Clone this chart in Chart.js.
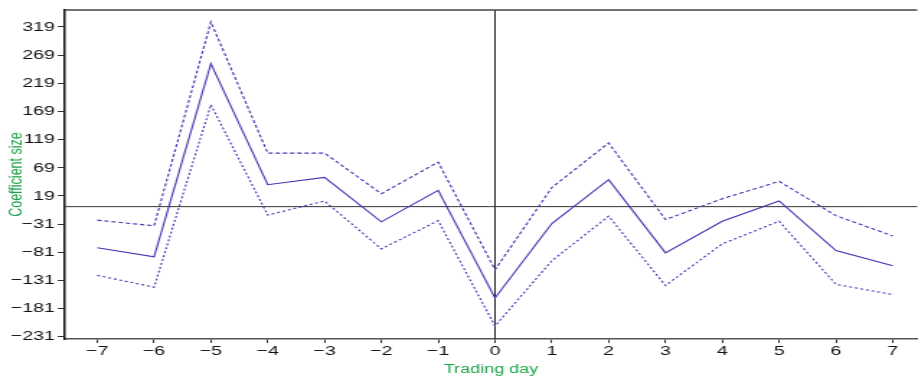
<!DOCTYPE html>
<html>
<head>
<meta charset="utf-8">
<script src="https://cdn.jsdelivr.net/npm/chart.js@4.4.1/dist/chart.umd.min.js"></script>
<style>
  html, body { margin: 0; padding: 0; background: #fff; overflow: hidden; }
  /* the original figure is stretched sideways, so draw narrow and widen it */
  #wrap { width: 637px; height: 381px; transform: scaleX(1.4411); transform-origin: 0 0; }
</style>
</head>
<body>
<div id="wrap"><canvas id="eventChart"></canvas></div>
<script>
// Trading days around the event
const days = [-7, -6, -5, -4, -3, -2, -1, 0, 1, 2, 3, 4, 5, 6, 7];

// Estimated coefficient and its upper / lower band
const coef  = [-73, -89, 254, 39, 52, -27, 29, -162, -30, 48, -82, -26, 10, -78, -105];
const upper = [-24, -34, 328, 95, 95, 23, 79, -112, 34, 113, -23, 14, 45, -16, -52];
const lower = [-122, -143, 181, -15, 10, -75, -25, -212, -96, -17, -140, -66, -26, -138, -156];

// Tick labels on the y axis
const yTicks = [-231, -181, -131, -81, -31, 19, 69, 119, 169, 219, 269, 319];

const lineColor = '#4a30b2';
const fontFamily = '"Liberation Sans", Arial, sans-serif';

function minus(v) {
    return String(v).replace('-', '\u2212');
}

// Zero lines and the top frame line
const zeroLines = {
    id: 'zeroLines',
    beforeDatasetsDraw(chart) {
        const { ctx, chartArea, scales } = chart;
        const x0 = scales.x.getPixelForValue(0);
        const y0 = scales.y.getPixelForValue(0);
        ctx.save();
        ctx.lineWidth = 1;
        ctx.strokeStyle = '#222';
        ctx.beginPath();
        ctx.moveTo(x0, chartArea.top);
        ctx.lineTo(x0, chartArea.bottom);
        ctx.stroke();
        ctx.strokeStyle = '#333';
        ctx.beginPath();
        ctx.moveTo(chartArea.left, y0);
        ctx.lineTo(chartArea.right, y0);
        ctx.stroke();
        ctx.lineWidth = 1.5;
        ctx.strokeStyle = '#444';
        ctx.beginPath();
        ctx.moveTo(chartArea.left, chartArea.top);
        ctx.lineTo(chartArea.right, chartArea.top);
        ctx.stroke();
        ctx.restore();
    }
};

const ctx = document.getElementById('eventChart').getContext('2d');

new Chart(ctx, {
    type: 'line',
    data: {
        datasets: [
            {
                label: 'Upper',
                data: days.map((d, i) => ({ x: d, y: upper[i] })),
                borderColor: lineColor,
                borderWidth: 1.1,
                borderDash: [3, 2],
                pointRadius: 0,
                tension: 0
            },
            {
                label: 'Coefficient',
                data: days.map((d, i) => ({ x: d, y: coef[i] })),
                borderColor: lineColor,
                borderWidth: 1.1,
                pointRadius: 0,
                tension: 0
            },
            {
                label: 'Lower',
                data: days.map((d, i) => ({ x: d, y: lower[i] })),
                borderColor: lineColor,
                borderWidth: 1.1,
                borderDash: [2, 2],
                pointRadius: 0,
                tension: 0
            }
        ]
    },
    options: {
        responsive: true,
        maintainAspectRatio: false,
        animation: false,
        layout: { padding: { top: 8, right: 0, bottom: 0, left: 0 } },
        plugins: {
            legend: { display: false },
            tooltip: { enabled: false }
        },
        scales: {
            x: {
                type: 'linear',
                min: -7.57,
                max: 7.43,
                afterBuildTicks: (axis) => { axis.ticks = days.map(v => ({ value: v })); },
                afterFit: (axis) => { axis.height = 42; },
                ticks: {
                    color: '#111',
                    font: { family: fontFamily, size: 13.5 },
                    padding: 0,
                    maxRotation: 0,
                    callback: (v) => minus(v)
                },
                grid: { drawOnChartArea: false, drawTicks: true, tickLength: 4, color: '#333' },
                border: { display: true, color: '#555', width: 1.5 },
                title: {
                    display: true,
                    text: 'Trading day',
                    color: '#1fa34a',
                    font: { family: fontFamily, size: 12.5 },
                    padding: { top: 0, bottom: 4 }
                }
            },
            y: {
                min: -235,
                max: 349,
                afterBuildTicks: (axis) => { axis.ticks = yTicks.map(v => ({ value: v })); },
                afterFit: (axis) => { axis.width = 45; },
                ticks: {
                    color: '#111',
                    font: { family: fontFamily, size: 13.5 },
                    padding: 2,
                    callback: (v) => minus(v)
                },
                grid: { drawOnChartArea: false, drawTicks: true, tickLength: 5, color: '#333' },
                border: { display: true, color: '#111', width: 1.5 },
                title: {
                    display: true,
                    text: 'Coefficient size',
                    color: '#1fa34a',
                    font: { family: fontFamily, size: 12.5 },
                    padding: { top: 4, bottom: 0 }
                }
            }
        }
    },
    plugins: [zeroLines]
});
</script>
</body>
</html>
